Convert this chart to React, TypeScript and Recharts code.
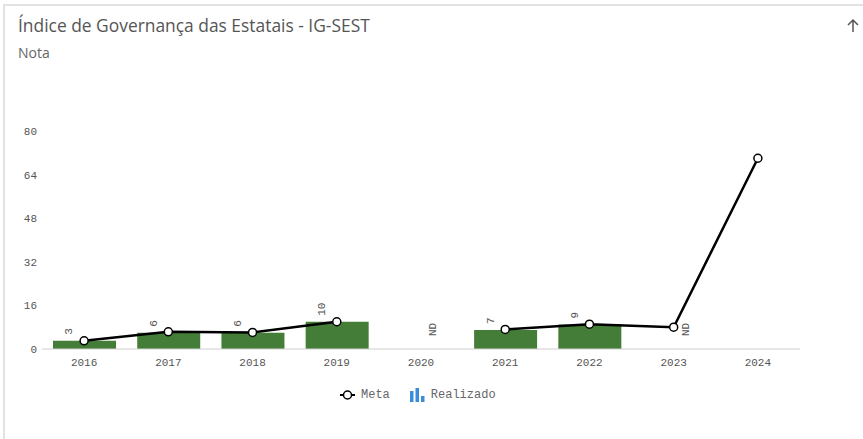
import React from "react";
import { ComposedChart, Bar, Line, XAxis, YAxis } from "recharts";

const YEARS = ["2016", "2017", "2018", "2019", "2020", "2021", "2022", "2023", "2024"];
const REALIZADO = [3, 6, 6, 10, null, 7, 9, null, null];
const META = [3, 6.3, 6.1, 10, null, 7.2, 9.1, 8, 70];
const SEM_DADO = [false, false, false, false, true, false, false, true, false];
const Y_TICKS = [0, 16, 32, 48, 64, 80];

const data = YEARS.map((ano, i) => ({
  ano,
  realizado: REALIZADO[i],
  meta: META[i],
  nd: SEM_DADO[i] ? 0 : null,
}));

const MONO = "'Liberation Mono', 'DejaVu Sans Mono', monospace";
const BAR_COLOR = "#447d37";

const barLabel = (props: any) => {
  const { x, y, width, value } = props;
  if (value == null) return null;
  const cx = x + width / 2 - 15;
  const cy = y - 6;
  return (
    <text
      x={cx}
      y={cy}
      transform={`rotate(-90 ${cx} ${cy})`}
      textAnchor="start"
      dominantBaseline="central"
      fontFamily={MONO}
      fontSize={11}
      fill="#555"
    >
      {value}
    </text>
  );
};

const ndLabel = (props: any) => {
  const { x, y, value } = props;
  if (value == null || y == null) return null;
  const cx = x + 12;
  const cy = y - 13;
  return (
    <text
      x={cx}
      y={cy}
      transform={`rotate(-90 ${cx} ${cy})`}
      textAnchor="start"
      dominantBaseline="central"
      fontFamily={MONO}
      fontSize={11}
      fill="#555"
    >
      ND
    </text>
  );
};

export default function App() {
  return (
    <div style={{ position: "absolute", left: 0, top: 0, width: 863, height: 439, overflow: "hidden", background: "#fff" }}>
      {/* card */}
      <div
        style={{
          position: "absolute",
          left: 3,
          top: 4,
          width: 900,
          height: 460,
          border: "2px solid #e2e2e2",
          boxSizing: "border-box",
        }}
      />
      <div
        style={{
          position: "absolute",
          left: 18,
          top: 13,
          fontFamily: "'Open Sans', sans-serif",
          fontSize: 17.4,
          color: "#555",
          whiteSpace: "nowrap",
        }}
      >
        Índice de Governança das Estatais - IG-SEST
      </div>
      <div
        style={{
          position: "absolute",
          left: 18,
          top: 43,
          fontFamily: "'Open Sans', sans-serif",
          fontSize: 14,
          color: "#666",
        }}
      >
        Nota
      </div>
      <svg width={14} height={16} style={{ position: "absolute", left: 846, top: 18 }}>
        <path d="M7 2 L7 14 M2 7 L7 2 L12 7" stroke="#555" strokeWidth={1.5} fill="none" />
      </svg>

      <div style={{ position: "absolute", left: 0, top: 0 }}>
        <ComposedChart
          width={863}
          height={439}
          data={data}
          margin={{ top: 131, right: 63, bottom: 60, left: 6 }}
        >
          <XAxis
            dataKey="ano"
            axisLine={{ stroke: "#cfcfcf" }}
            tickLine={false}
            tickSize={0}
            tickMargin={9}
            height={30}
            tick={{ fill: "#555", fontSize: 11, fontFamily: MONO }}
          />
          <YAxis
            domain={[0, 80]}
            ticks={Y_TICKS}
            axisLine={false}
            tickLine={false}
            tickSize={0}
            tickMargin={5}
            width={36}
            tick={{ fill: "#555", fontSize: 11, fontFamily: MONO }}
          />
          <Bar
            dataKey="realizado"
            fill={BAR_COLOR}
            barSize={63}
            isAnimationActive={false}
            label={barLabel}
          />
          <Line
            dataKey="nd"
            stroke="none"
            dot={false}
            activeDot={false}
            legendType="none"
            isAnimationActive={false}
            label={ndLabel}
          />
          <Line
            dataKey="meta"
            stroke="#000"
            strokeWidth={2.5}
            dot={{ r: 4, fill: "#fff", stroke: "#000", strokeWidth: 1.5 }}
            activeDot={false}
            connectNulls={false}
            isAnimationActive={false}
          />
        </ComposedChart>
      </div>

      {/* legend */}
      <div
        style={{
          position: "absolute",
          left: 339,
          top: 388,
          display: "flex",
          alignItems: "center",
          fontFamily: MONO,
          fontSize: 12,
          color: "#666",
        }}
      >
        <svg width={17} height={12} style={{ marginRight: 5 }}>
          <line x1={1} y1={6} x2={16} y2={6} stroke="#000" strokeWidth={2} />
          <circle cx={8.5} cy={6} r={4} fill="#fff" stroke="#000" strokeWidth={1.5} />
        </svg>
        <span>Meta</span>
        <svg width={15} height={14} style={{ marginLeft: 20, marginRight: 6 }}>
          <rect x={0} y={3} width={3.5} height={11} fill="#3a8dd6" />
          <rect x={5.5} y={0} width={3.5} height={14} fill="#3a8dd6" />
          <rect x={11} y={8} width={3.5} height={6} fill="#3a8dd6" />
        </svg>
        <span>Realizado</span>
      </div>
    </div>
  );
}
